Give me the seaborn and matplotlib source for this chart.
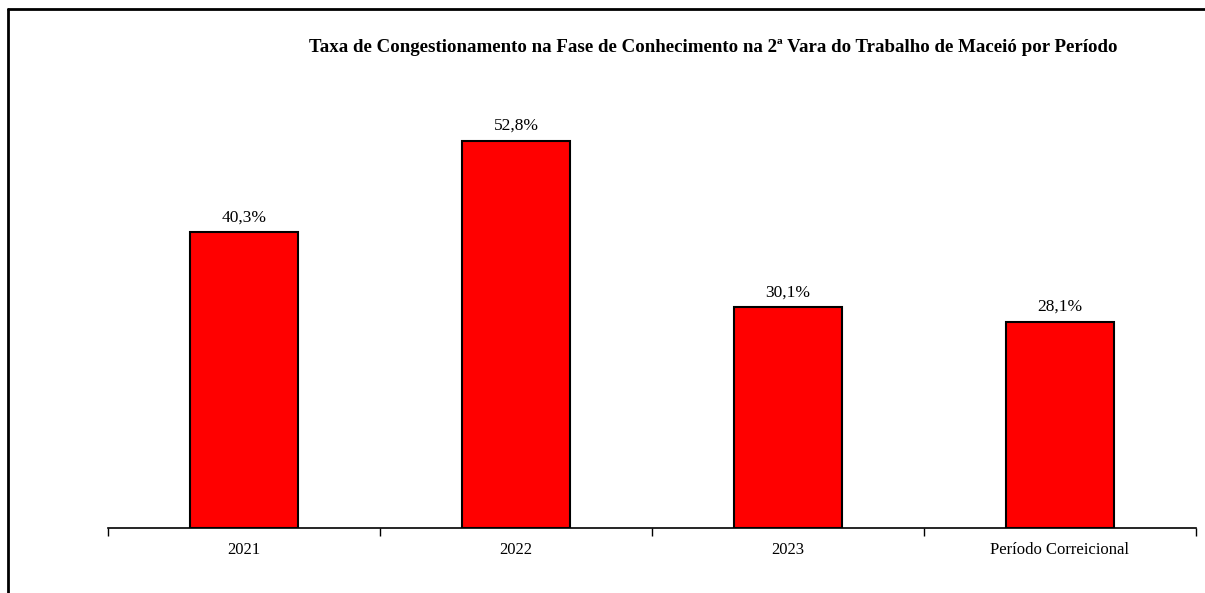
import seaborn as sns
import pandas as pd
import matplotlib.pyplot as plt
from matplotlib.lines import Line2D

periodos = ['2021', '2022', '2023', 'Período Correicional']
taxas = [40.3, 52.8, 30.1, 28.1]
rotulos = ['40,3%', '52,8%', '30,1%', '28,1%']

df = pd.DataFrame({'periodo': periodos, 'taxa': taxas})

sns.set_style('white')
plt.rcParams['font.family'] = ['Liberation Serif', 'DejaVu Serif']
plt.rcParams['text.color'] = 'black'
plt.rcParams['xtick.color'] = 'black'

fig = plt.figure(figsize=(12.05, 5.93), dpi=100)
ax = fig.add_axes([108/1205, 65/593, (1196-108)/1205, (528-88)/593])

sns.barplot(df, x='periodo', y='taxa', color='#ff0000', saturation=1,
            edgecolor='black', linewidth=1.5, width=0.4, ax=ax)

ax.bar_label(ax.containers[0], labels=rotulos, padding=5, fontsize=12.5)

ax.set_xlim(-0.5, 3.5)
ax.set_ylim(0, 60)
ax.set_xlabel('')
ax.set_ylabel('')
ax.set_yticks([])
for s in ['left', 'right', 'top']:
    ax.spines[s].set_visible(False)
ax.spines['bottom'].set_color('black')
ax.spines['bottom'].set_linewidth(1.2)

ax.set_xticks([-0.5, 0.5, 1.5, 2.5, 3.5], minor=True)
ax.tick_params(axis='x', which='major', bottom=False, length=0, pad=10,
               labelsize=12, labelcolor='black')
ax.tick_params(axis='x', which='minor', bottom=True, length=6, width=1,
               color='black', direction='out')

fig.text(713/1205, 1 - 47/593,
         'Taxa de Congestionamento na Fase de Conhecimento na 2ª Vara do Trabalho de Maceió por Período',
         ha='center', va='center', fontsize=13.6, fontweight='bold')

# moldura (esquerda e topo)
fig.add_artist(Line2D([8/1205, 8/1205], [0, 1 - 9/593], color='black', lw=2,
                      transform=fig.transFigure))
fig.add_artist(Line2D([8/1205, 1], [1 - 9/593, 1 - 9/593], color='black', lw=2,
                      transform=fig.transFigure))

fig.savefig('out.png', dpi=100)
